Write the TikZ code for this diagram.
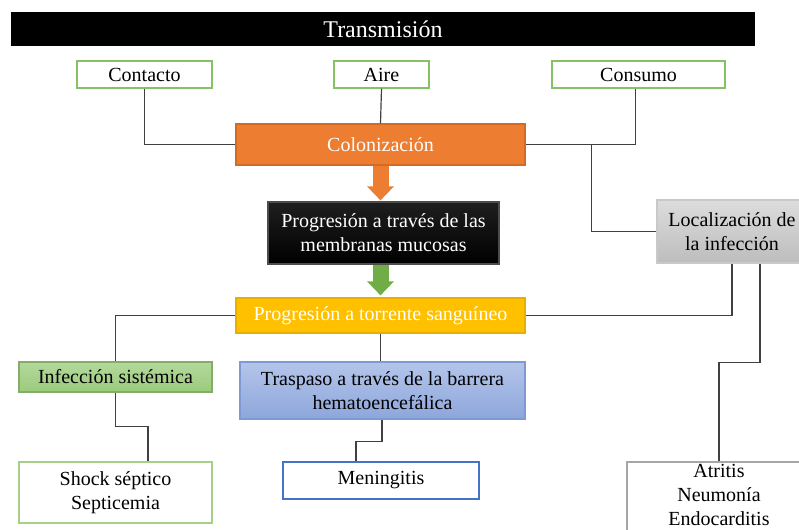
\documentclass[tikz,border=0pt]{standalone}
\usepackage{fontspec}
\setmainfont{Liberation Serif}
\usetikzlibrary{calc,arrows.meta}
\definecolor{orangeC}{HTML}{ED7D31}
\definecolor{orangeD}{HTML}{D46A24}
\definecolor{yellowC}{HTML}{FFC000}
\definecolor{yellowD}{HTML}{E8AF00}
\definecolor{greenA}{HTML}{70AD47}
\definecolor{greenB}{HTML}{84C262}
\definecolor{greenT}{HTML}{B3D89B}
\definecolor{greenM}{HTML}{9BCB7C}
\definecolor{blueT}{HTML}{B4C5EA}
\definecolor{blueM}{HTML}{8DA6DB}
\definecolor{blueD}{HTML}{7F9AD3}
\definecolor{blueE}{HTML}{4472C4}
\definecolor{grayT}{HTML}{DCDCDC}
\definecolor{grayM}{HTML}{BDBDBD}
\definecolor{grayD}{HTML}{A6A6A6}
\definecolor{lineC}{HTML}{404040}
\tikzset{
  txt/.style={font=\fontsize{15pt}{18pt}\selectfont, align=center, inner sep=0pt},
  greenbox/.style={txt, draw=greenB, line width=0.9pt, fill=white},
  conn/.style={draw=lineC, line width=0.9pt},
  blockarrow/.style={line width=12pt, -{Triangle[width=19.5pt,length=10.5pt]}}
}
\begin{document}
\begin{tikzpicture}[x=0.75pt,y=-0.75pt]
\useasboundingbox (0,0) rectangle (799,529);
\clip (0,0) rectangle (799,529);
\fill[white] (0,0) rectangle (799,529);

\node[txt, fill=black, text=white, font=\fontsize{18pt}{21pt}\selectfont, minimum width=558pt, minimum height=25.5pt] (title) at (383,29) {Transmisión};

\node[greenbox, minimum width=101.25pt, minimum height=20.25pt] (contacto) at (144.5,74.5) {Contacto};
\node[greenbox, minimum width=71.25pt, minimum height=20.25pt] (aire) at (381.5,74.5) {Aire};
\node[greenbox, minimum width=129.75pt, minimum height=20.25pt] (consumo) at (638.5,74.5) {Consumo};

\node[txt, fill=orangeC, draw=orangeD, line width=0.9pt, text=white, minimum width=216.75pt, minimum height=30.75pt] (col) at (380.5,144.5) {Colonización};

\node[txt, top color=black!88, bottom color=black, draw=black!70, line width=0.9pt, text=white, minimum width=173.25pt, minimum height=46.5pt] (prog1) at (383.5,233) {Progresión a través de las\\membranas mucosas};

\node[txt, fill=yellowC, draw=yellowD, line width=0.9pt, text=white, minimum width=216.75pt, minimum height=26.25pt] (prog2) at (380.5,315.5) {Progresión a torrente sanguíneo};

\node[txt, top color=grayT, bottom color=grayM, draw=grayT!80!gray, line width=0.9pt, minimum width=112.5pt, minimum height=47.25pt] (loc) at (732,231.5) {Localización de\\la infección};

\node[txt, top color=greenT, bottom color=greenM, draw=greenM!85!black, line width=0.9pt, minimum width=144.75pt, minimum height=22.5pt] (infsis) at (115.5,377) {Infección sistémica};

\node[txt, top color=blueT, bottom color=blueM, draw=blueD, line width=0.9pt, minimum width=213.75pt, minimum height=42.75pt] (trasp) at (382.5,390.5) {Traspaso a través de la barrera\\hematoencefálica};

\node[txt, draw=greenT!80!greenA, line width=0.9pt, fill=white, minimum width=144.75pt, minimum height=45.75pt] (shock) at (115.5,492.5) {Shock séptico\\Septicemia};

\node[txt, draw=blueE, line width=0.9pt, fill=white, minimum width=147pt, minimum height=27.75pt] (men) at (381,480.5) {Meningitis};

\node[txt, draw=grayD, line width=0.9pt, fill=white, minimum width=138pt, minimum height=52.5pt, text depth=0pt] (atr) at (719,497) {};
\node[txt] (atrtext) at (719,495) {Atritis\\Neumonía\\Endocarditis};

% connectors
\draw[conn] (contacto.south) |- (col.west);
\draw[conn] (aire.south) -- (col.north);
\draw[conn] ($(consumo.south)+(-3,0)$) |- (col.east);
\coordinate (j1) at ($(col.east)+(66,0)$);
\draw[conn] (j1) |- (loc.west);
\draw[conn] (loc.south) |- (prog2.east);
\draw[conn] ($(loc.south)+(28,0)$) -- ++(0,99) -| (atr.north);
\draw[conn] (prog2.west) -| (infsis.north);
\draw[conn] (infsis.south) -- ++(0,34) -| ($(shock.north)+(32.5,0)$);
\draw[conn] (prog2.south) -- (prog2.south |- trasp.north);
\draw[conn] ($(trasp.south)+(-0.5,0)$) -- ++(0,22) -| ($(men.north)+(-25,0)$);

% block arrows
\draw[blockarrow, orangeC] (col.south) -- ($(prog1.north)+(-3,-1)$);
\draw[blockarrow, greenA] ($(prog1.south)+(-3,0)$) -- ($(prog2.north)+(0,-2)$);
\end{tikzpicture}
\end{document}
